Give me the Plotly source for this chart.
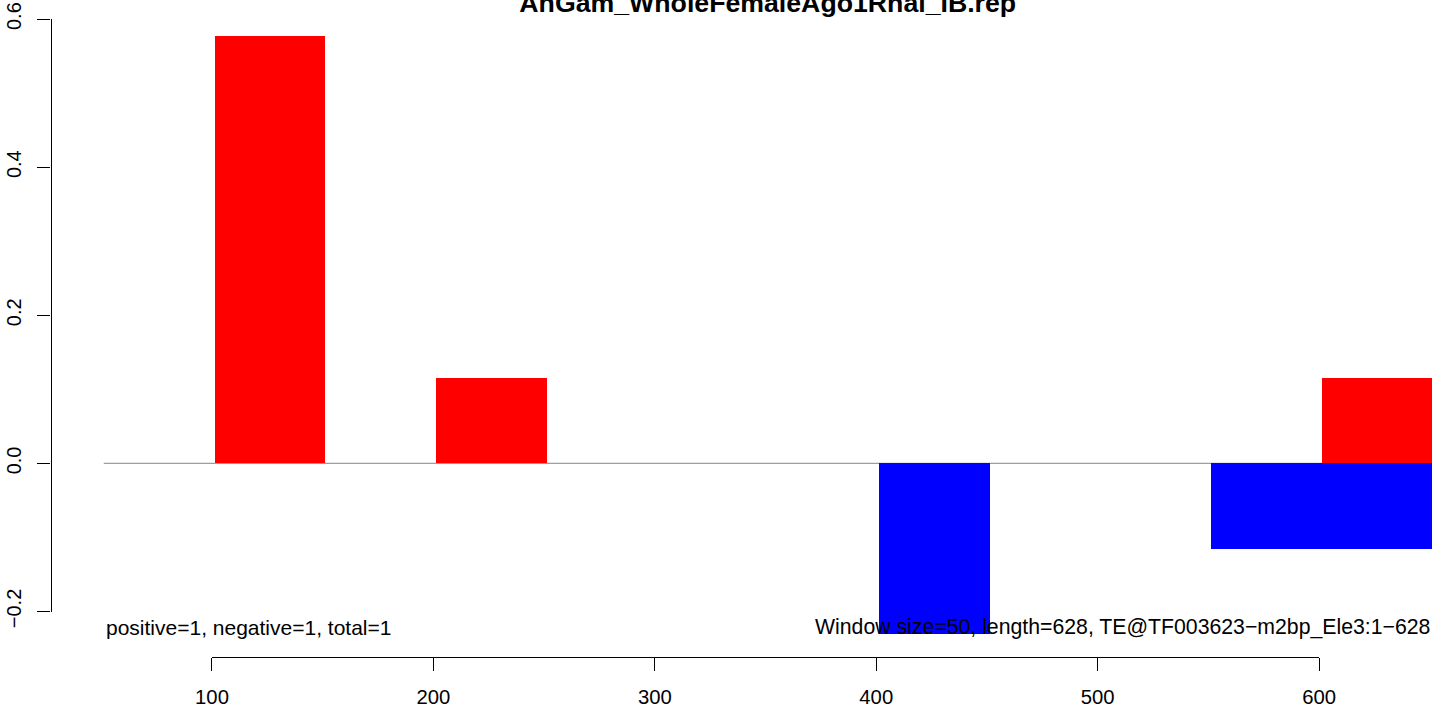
import plotly.graph_objects as go

# ---------------- data ----------------
window_starts = [51, 101, 151, 201, 251, 301, 351, 401, 451, 501, 551, 601]
window_size = 50
positive_vals = [0, 0.577, 0, 0.115, 0, 0, 0, 0, 0, 0, 0, 0.115]
negative_vals = [0, 0, 0, 0, 0, 0, 0, -0.231, 0, 0, -0.115, -0.115]
x_ticks = [100, 200, 300, 400, 500, 600]
y_ticks = [-0.2, 0.0, 0.2, 0.4, 0.6]
y_tick_text = ["\u22120.2", "0.0", "0.2", "0.4", "0.6"]
title_text = "AnGam_WholeFemaleAgo1Rnai_IB.rep"
left_note = "positive=1, negative=1, total=1"
right_note = "Window size=50, length=628, TE@TF003623\u2212m2bp_Ele3:1\u2212628"
x_start, x_end = 51, 651

# ---------------- geometry ----------------
W, H = 1444, 706
ML, MR = 50, 12
paper_w = W - ML - MR
px_lo, px_hi = 103.5, 1432.0          # pixel of x_start / x_end
ppu_x = (px_hi - px_lo) / (x_end - x_start)
zero_py, ppu_y = 463.4, 740.5          # pixel row of y=0, px per unit


def xfrac(v):
    return (px_lo + (v - x_start) * ppu_x - ML) / paper_w


def yfrac(v):
    return (H - (zero_py - ppu_y * v)) / H


y_min = -(H - zero_py) / ppu_y
y_max = zero_py / ppu_y

FONT = "Liberation Sans, Arial, Helvetica, sans-serif"

fig = go.Figure()
fig.add_trace(go.Bar(x=window_starts, y=positive_vals, width=window_size, offset=0,
                     marker=dict(color="#FF0000", line=dict(width=0)),
                     showlegend=False, hoverinfo="skip"))
fig.add_trace(go.Bar(x=window_starts, y=negative_vals, width=window_size, offset=0,
                     marker=dict(color="#0000FF", line=dict(width=0)),
                     showlegend=False, hoverinfo="skip"))
# invisible trace carrying the R-style axes
fig.add_trace(go.Scatter(x=[x_ticks[0]], y=[y_ticks[0]], xaxis="x2", yaxis="y2",
                         mode="markers", marker=dict(opacity=0),
                         showlegend=False, hoverinfo="skip"))

fig.add_shape(type="line", xref="x", yref="y", x0=x_start, x1=x_end, y0=0, y1=0,
              line=dict(color="#9E9E9E", width=1.2), layer="below")

ann_y = (zero_py - 627.0) / ppu_y
fig.add_annotation(x=x_start, y=ann_y, xref="x", yref="y", text=left_note,
                   showarrow=False, xanchor="left", yanchor="middle",
                   font=dict(family=FONT, size=21.0, color="black"))
fig.add_annotation(x=x_end, y=ann_y, xref="x", yref="y", text=right_note,
                   showarrow=False, xanchor="right", yanchor="middle",
                   font=dict(family=FONT, size=21.25, color="black"))

fig.update_layout(
    width=W, height=H,
    margin=dict(l=ML, r=MR, t=0, b=0, pad=0),
    paper_bgcolor="white", plot_bgcolor="rgba(0,0,0,0)",
    barmode="overlay", bargap=0,
    font=dict(family=FONT, color="black"),
    title=dict(text="<b>" + title_text + "</b>", x=xfrac((x_start + x_end) / 2) * paper_w / W + ML / W,
               xanchor="center", xref="container", yref="container",
               y=1 - 11.7 / H, yanchor="bottom",
               font=dict(family=FONT, size=26.7, color="black")),
    xaxis=dict(range=[x_start, x_end], domain=[xfrac(x_start), 1.0], visible=False,
               showgrid=False, zeroline=False, automargin=False),
    yaxis=dict(range=[y_min, y_max], domain=[0, 1], visible=False,
               showgrid=False, zeroline=False, automargin=False),
    xaxis2=dict(range=[x_ticks[0], x_ticks[-1]], domain=[xfrac(x_ticks[0]), xfrac(x_ticks[-1])],
                anchor="free", position=(H - 657.3) / H, side="bottom",
                showline=True, linecolor="black", linewidth=1.2, mirror=False,
                ticks="outside", ticklen=13, tickwidth=1.2, tickcolor="black",
                tickvals=x_ticks, ticktext=[str(t) for t in x_ticks],
                ticklabelstandoff=8,
                tickfont=dict(family=FONT, size=20.3, color="black"),
                showgrid=False, zeroline=False, automargin=False),
    yaxis2=dict(range=[y_ticks[0], y_ticks[-1]], domain=[yfrac(y_ticks[0]), yfrac(y_ticks[-1])],
                anchor="free", position=0.0004, side="left",
                showline=True, linecolor="black", linewidth=1.2,
                ticks="outside", ticklen=13, tickwidth=1.2, tickcolor="black",
                tickvals=y_ticks, ticktext=y_tick_text, tickangle=-90,
                ticklabelstandoff=8,
                tickfont=dict(family=FONT, size=20, color="black"),
                showgrid=False, zeroline=False, automargin=False),
)

fig.write_html("out.html", config={"displayModeBar": False},
               post_script="document.body.style.margin='0';document.body.style.padding='0';")
